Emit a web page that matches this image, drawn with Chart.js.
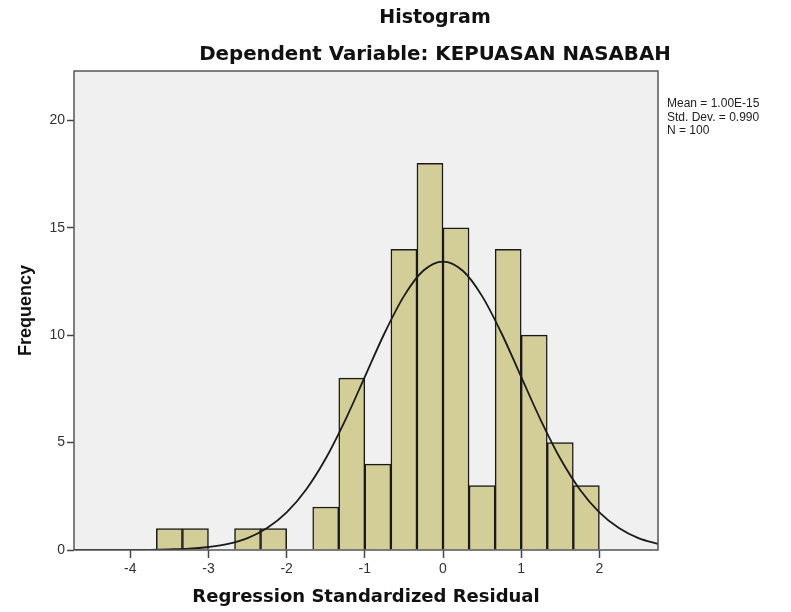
<!DOCTYPE html>
<html lang="en">
<head>
<meta charset="utf-8">
<title>Histogram</title>
<script src="https://cdn.jsdelivr.net/npm/chart.js@4"></script>
<style>
html, body { margin: 0; padding: 0; background: #fff; overflow: hidden; }
#wrap { position: relative; width: 791px; height: 612px; }
.ttl {
    position: absolute; left: 135px; width: 600px; text-align: center;
    font-family: "DejaVu Sans", sans-serif; font-weight: bold; font-size: 19px;
    line-height: 22px; color: #111;
}
#stats {
    position: absolute; left: 667px; top: 97px;
    font-family: "Liberation Sans", Arial, sans-serif; font-size: 12px;
    line-height: 13.5px; color: #222; white-space: pre;
}
</style>
</head>
<body>
<div id="wrap">
  <canvas id="chart"></canvas>
  <div class="ttl" style="top: 5px;">Histogram</div>
  <div class="ttl" style="top: 43px; font-size: 19.8px;">Dependent Variable: KEPUASAN NASABAH</div>
  <div id="stats">Mean = 1.00E-15
Std. Dev. = 0.990
N = 100</div>
</div>
<script>
// histogram bins (bin width 1/3)
const binEdges = [-3.6667, -3.3333, -3.0, -2.6667, -2.3333, -2.0, -1.6667, -1.3333, -1.0,
                  -0.6667, -0.3333, 0.0, 0.3333, 0.6667, 1.0, 1.3333, 1.6667, 2.0];
const counts = [1, 1, 0, 1, 1, 0, 2, 8, 4, 14, 18, 15, 3, 14, 10, 5, 3];

// normal curve
const curveX = [-4.75, -4.5, -4.25, -4, -3.75, -3.5, -3.25, -3, -2.75, -2.5, -2.25, -2, -1.75, -1.5, -1.25, -1,
                -0.75, -0.5, -0.25, 0, 0.25, 0.5, 0.75, 1, 1.25, 1.5, 1.75, 2, 2.25, 2.5, 2.75];
const curveY = [0, 0, 0, 0, 0.01, 0.03, 0.06, 0.14, 0.28, 0.55, 1.02, 1.75, 2.82, 4.26, 6.05, 8.06,
                10.08, 11.82, 13.01, 13.43, 13.01, 11.82, 10.08, 8.06, 6.05, 4.26, 2.82, 1.75, 1.02, 0.55, 0.28];

const xTicks = [-4, -3, -2, -1, 0, 1, 2];
const yTicks = [0, 5, 10, 15, 20];

const barData = counts.map((c, i) => ({x: (binEdges[i] + binEdges[i + 1]) / 2, y: c}));
const lineData = curveX.map((x, i) => ({x: x, y: curveY[i]}));

const plotFrame = {
    id: 'plotFrame',
    beforeDatasetsDraw(chart) {
        const a = chart.chartArea, ctx = chart.ctx;
        ctx.save();
        ctx.fillStyle = '#f0f0f0';
        ctx.fillRect(a.left, a.top, a.right - a.left, a.bottom - a.top);
        ctx.restore();
    },
    afterDraw(chart) {
        const a = chart.chartArea, ctx = chart.ctx;
        ctx.save();
        ctx.strokeStyle = '#555';
        ctx.lineWidth = 1.5;
        ctx.strokeRect(a.left, a.top, a.right - a.left, a.bottom - a.top);
        ctx.restore();
    }
};

Chart.defaults.font.family = '"Liberation Sans", Arial, sans-serif';
Chart.defaults.color = '#333';

new Chart(document.getElementById('chart'), {
    type: 'bar',
    data: {
        datasets: [{
            type: 'line',
            data: lineData,
            borderColor: '#1a1a1a',
            borderWidth: 1.8,
            pointRadius: 0,
            fill: false,
            cubicInterpolationMode: 'monotone',
            order: 0
        }, {
            type: 'bar',
            data: barData,
            backgroundColor: '#d3ce98',
            borderColor: '#1a1a1a',
            borderWidth: 1.5,
            barPercentage: 1.0,
            categoryPercentage: 1.0,
            order: 1
        }]
    },
    options: {
        responsive: true,
        maintainAspectRatio: false,
        animation: false,
        layout: { padding: { top: 71, right: 133, left: 0, bottom: 0 } },
        plugins: { legend: { display: false }, tooltip: { enabled: false } },
        scales: {
            x: {
                type: 'linear',
                min: -4.72,
                max: 2.75,
                offset: false,
                afterFit: (s) => { s.height = 62; },
                afterBuildTicks: (s) => { s.ticks = xTicks.map(v => ({value: v})); },
                ticks: { includeBounds: false, padding: 3, font: { size: 14 }, color: '#333' },
                grid: { offset: false, drawOnChartArea: false, drawTicks: true, tickLength: 8, tickColor: '#444', tickWidth: 1.5 },
                border: { display: false },
                title: {
                    display: true,
                    text: 'Regression Standardized Residual',
                    color: '#111',
                    font: { family: '"DejaVu Sans", sans-serif', size: 18, weight: 'bold' },
                    padding: { top: 0, bottom: 4 }
                }
            },
            y: {
                type: 'linear',
                min: 0,
                max: 22.3,
                afterFit: (s) => { s.width = 74; },
                afterBuildTicks: (s) => { s.ticks = yTicks.map(v => ({value: v})); },
                ticks: { includeBounds: false, padding: 2, font: { size: 14 }, color: '#333' },
                grid: { drawOnChartArea: false, drawTicks: true, tickLength: 7, tickColor: '#444', tickWidth: 1.5 },
                border: { display: false },
                title: {
                    display: true,
                    text: 'Frequency',
                    color: '#111',
                    font: { size: 18, weight: 'bold' },
                    padding: { top: 15, bottom: 0 }
                }
            }
        }
    },
    plugins: [plotFrame]
});
</script>
</body>
</html>
